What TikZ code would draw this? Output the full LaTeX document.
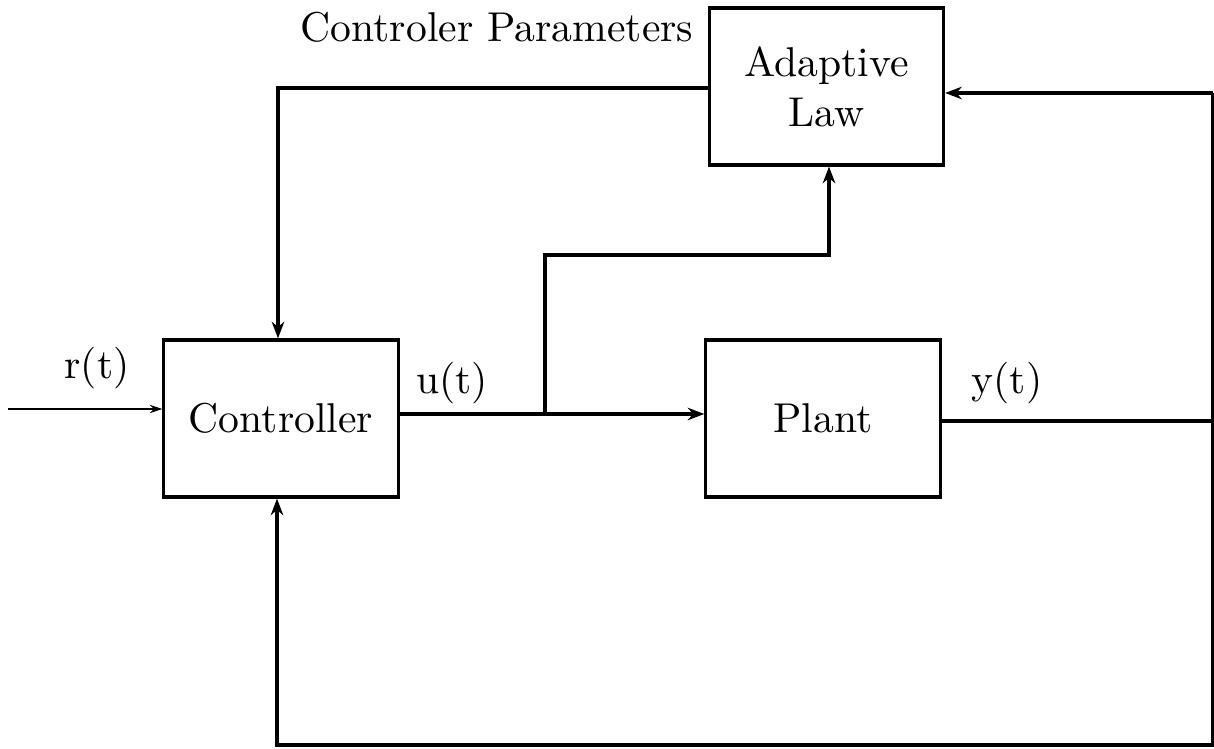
\documentclass[tikz,border=0pt]{standalone}
\usetikzlibrary{arrows.meta}
\begin{document}
\begin{tikzpicture}[x=0.24pt,y=-0.24pt,
  block/.style={draw,line width=0.75pt,minimum width=56.2pt,minimum height=37.7pt,inner sep=0pt,align=center},
  wire/.style={line width=0.75pt,-{Stealth[length=4pt,width=3pt]}},
  plainwire/.style={line width=0.75pt},
  inwire/.style={line width=0.45pt,-{Stealth[length=3pt,width=2pt]}},
  lbl/.style={inner sep=0pt}]
\useasboundingbox (0,0) rectangle (1214,749);
\node[block] (ctrl) at (281,418.5) {Controller};
\node[block] (plant) at (823,418.5) {Plant};
\node[block] (adapt) at (826.5,86.5) {Adaptive\\Law};
% input
\coordinate (in) at (8,409);
\draw[inwire] (in) -- (in -| ctrl.west);
\node[lbl] (rt) at (97,368) {r(t)};
% control signal
\coordinate (uo) at (398,414);
\coordinate (br) at (545,414);
\draw[wire] (uo) -- (uo -| plant.west);
\draw[wire] (br) -- (545,255) -- (829,255) -- (829,0 |- adapt.south);
\node[lbl] (ut) at (452,383) {u(t)};
% plant output
\coordinate (yo) at (940,421);
\coordinate (rc) at (1213,421);
\draw[plainwire] (yo -| plant.east) -- (rc);
\node[lbl] (yt) at (1007,383) {y(t)};
\draw[wire] (1213,93) -- (1213,745) -- (277,745) -- (277,0 |- ctrl.south);
\draw[wire] (1213,93) -- (adapt.east |- 0,93);
% parameters
\draw[wire] (adapt.west |- 0,88) -- (278,88) -- (278,0 |- ctrl.north);
\node[lbl] (cp) at (497,27) {Controler Parameters};
\end{tikzpicture}
\end{document}
